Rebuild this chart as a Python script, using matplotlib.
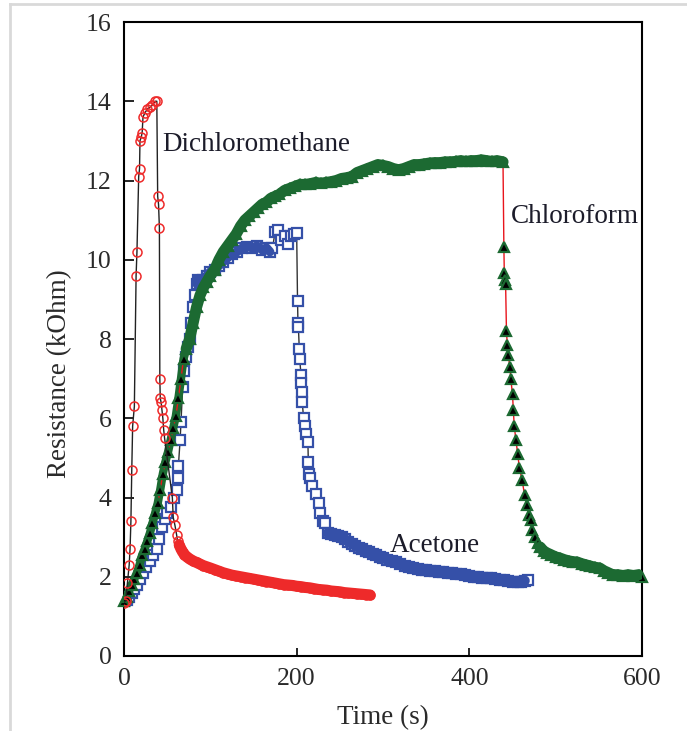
import matplotlib
matplotlib.use('Agg')
import matplotlib.pyplot as plt
from matplotlib.lines import Line2D

plt.rcParams['font.family'] = ['Liberation Serif', 'DejaVu Serif']

# Dichloromethane (red open circles)
t_dcm = [0, 2, 4, 6, 7, 8, 9, 10, 12, 14, 15, 17, 18, 18.5, 20, 21, 22, 24, 27, 30, 33, 36,
         38, 39, 40, 41, 41.5, 42, 43, 44, 45, 46, 47, 56, 57, 59, 61, 62,
         64, 66, 68, 70, 73, 76, 80, 84, 88, 92, 96, 100, 105, 110, 115, 120, 125, 130,
         135, 140, 145, 150, 155, 160, 165, 170, 175, 180, 185, 190, 195, 200, 205, 210,
         215, 220, 225, 230, 235, 240, 245, 250, 255, 260, 265, 270, 275, 280, 285]
r_dcm = [1.35, 1.4, 1.85, 2.3, 2.7, 3.4, 4.7, 5.8, 6.3, 9.6, 10.2, 12.1, 12.3, 13.0, 13.1, 13.2, 13.6, 13.7, 13.8, 13.85, 13.9, 14.0,
         14.0, 11.6, 11.4, 10.8, 7.0, 6.5, 6.4, 6.2, 6.0, 5.7, 5.5, 4.0, 3.5, 3.3, 3.05, 2.9,
         2.8, 2.7, 2.62, 2.56, 2.5, 2.45, 2.4, 2.36, 2.32, 2.28, 2.25, 2.22, 2.18, 2.14, 2.1, 2.07, 2.04, 2.02,
         2.0, 1.98, 1.96, 1.94, 1.92, 1.9, 1.88, 1.86, 1.84, 1.82, 1.8, 1.79, 1.78, 1.76, 1.75, 1.73,
         1.72, 1.7, 1.68, 1.67, 1.66, 1.64, 1.63, 1.62, 1.6, 1.59, 1.58, 1.57, 1.56, 1.55, 1.54]

# Acetone (blue open squares)
t_ace = [0, 3, 6, 9, 12, 15, 18, 22, 26, 30, 34, 38, 41, 44, 47, 50, 55, 58, 61, 62, 63, 65, 66, 68,
         70, 72, 74, 76, 78, 80, 82, 84, 86, 88, 92, 96, 100, 105, 110, 115, 120, 125, 131, 137,
         143, 148, 154, 160, 165, 169, 172, 175, 178, 182, 186, 190, 194, 197, 200,
         201, 201.5, 202, 203, 203.5, 205, 205.5, 206, 206.5, 208, 210, 211, 213, 213.5, 214, 216,
         218, 222, 226, 227, 230, 233, 236, 240, 244, 248, 252, 256, 260, 264, 268, 272, 276, 280,
         284, 288, 292, 296, 300, 305, 310, 315, 320, 325, 330, 335, 340, 345, 350, 355, 360, 365,
         370, 375, 380, 385, 390, 395, 400, 405, 410, 415, 420, 425, 430, 435, 440, 445, 451, 456,
         460, 464, 468]
r_ace = [1.4, 1.42, 1.5, 1.6, 1.7, 1.8, 1.95, 2.1, 2.25, 2.4, 2.55, 2.7, 2.95, 3.25, 3.45, 3.6, 3.77, 4.0, 4.2, 4.5, 4.8, 5.45, 5.9, 6.8,
         7.2, 7.55, 7.8, 8.0, 8.4, 8.8, 9.1, 9.4, 9.5, 9.45, 9.5, 9.6, 9.7, 9.75, 9.85, 9.95, 10.05, 10.15, 10.2, 10.3,
         10.33, 10.3, 10.35, 10.25, 10.3, 10.2, 10.3, 10.7, 10.75, 10.5, 10.6, 10.4, 10.6, 10.65, 10.68,
         8.95, 8.4, 8.3, 7.75, 7.5, 7.1, 6.9, 6.65, 6.4, 6.0, 5.8, 5.6, 5.4, 4.9, 4.6, 4.5,
         4.3, 4.1, 3.85, 3.6, 3.4, 3.35, 3.1, 3.08, 3.05, 3.03, 3.0, 2.95, 2.88, 2.83, 2.78, 2.73, 2.7, 2.65,
         2.62, 2.58, 2.55, 2.5, 2.47, 2.43, 2.4, 2.36, 2.32, 2.28, 2.25, 2.22, 2.2, 2.18, 2.17, 2.15, 2.14, 2.12,
         2.11, 2.1, 2.09, 2.07, 2.06, 2.04, 2.02, 2.0, 1.99, 1.98, 1.97, 1.96, 1.95, 1.93, 1.92, 1.9, 1.88, 1.87,
         1.88, 1.9, 1.92]

# Chloroform (black triangles, green edge)
t_chl = [0, 3, 6, 9, 12, 15, 18, 21, 24, 27, 30, 33, 36, 39, 42, 45, 48, 51, 54, 57, 60, 63, 66, 69,
         72, 76, 80, 84, 88, 92, 96, 100, 105, 110, 115, 120, 125, 130, 135, 140, 145, 150, 155,
         160, 165, 170, 175, 180, 186, 192, 198, 204, 210, 216, 222, 228, 234, 240, 246, 252, 258,
         264, 270, 276, 282, 288, 294, 300, 306, 312, 318, 324, 330, 336, 342, 348, 354, 360, 366,
         372, 378, 384, 390, 396, 402, 408, 414, 420, 426, 432, 439,
         440, 440.5, 441, 442, 443, 444, 445, 447, 448, 450, 451, 452, 454, 456, 458, 461, 464, 467,
         469, 471, 473, 476, 479, 482, 486, 490, 495, 500, 505, 510, 515, 520, 525, 530, 535, 540,
         545, 551, 556, 561, 566, 572, 578, 584, 590, 596, 600]
r_chl = [1.4, 1.5, 1.65, 1.8, 1.95, 2.1, 2.3, 2.55, 2.7, 2.9, 3.1, 3.35, 3.6, 3.85, 4.2, 4.6, 4.9, 5.15, 5.45, 5.75, 6.05, 6.5, 7.0, 7.5,
         7.75, 8.0, 8.4, 8.8, 9.1, 9.3, 9.45, 9.6, 9.75, 10.0, 10.2, 10.35, 10.5, 10.65, 10.85, 11.0, 11.1, 11.2, 11.3,
         11.4, 11.45, 11.55, 11.6, 11.65, 11.75, 11.8, 11.85, 11.9, 11.9, 11.92, 11.95, 11.93, 11.95, 11.97, 12.0, 12.05, 12.07,
         12.1, 12.2, 12.25, 12.3, 12.35, 12.4, 12.38, 12.35, 12.3, 12.27, 12.3, 12.35, 12.4, 12.4, 12.42, 12.44, 12.45, 12.45,
         12.47, 12.47, 12.48, 12.5, 12.48, 12.5, 12.5, 12.52, 12.5, 12.48, 12.5, 12.47,
         10.33, 9.67, 9.5, 9.4, 8.2, 7.85, 7.6, 7.3, 7.0, 6.6, 6.2, 5.8, 5.45, 5.1, 4.75, 4.45, 4.07, 3.8,
         3.55, 3.43, 3.18, 3.0, 2.85, 2.75, 2.65, 2.6, 2.55, 2.5, 2.47, 2.43, 2.4, 2.38, 2.37, 2.33, 2.3, 2.27,
         2.24, 2.22, 2.15, 2.1, 2.05, 2.05, 2.03, 2.05, 2.03, 2.05, 2.0]

x_ticks = [0, 200, 400, 600]
y_ticks = [0, 2, 4, 6, 8, 10, 12, 14, 16]

red = '#ee2a2a'
blue = '#3550a8'
green = '#1c6a32'

fig = plt.figure(figsize=(6.87, 7.31), dpi=100)
ax = fig.add_axes([0.1805, 0.1026, 0.754, 0.8673])

# acetone: markers, then the dense stretches read as a solid band
ax.plot(t_ace, r_ace, color='#333333', lw=1.0, marker='s', ms=7, mfc='white',
        mec=blue, mew=1.6, zorder=3)
ax.plot(t_ace[31:50], r_ace[31:50], color=blue, lw=6.5, zorder=3.1, solid_capstyle='round')
ax.plot(t_ace[81:-1], r_ace[81:-1], color=blue, lw=7.5, zorder=3.1, solid_capstyle='round')

# chloroform
ax.plot(t_chl[:25], r_chl[:25], color=green, lw=6, zorder=3.9, solid_capstyle='round')
ax.plot(t_chl, r_chl, color='#e8141c', lw=1.0, marker='^', ms=7.5, mfc='black',
        mec=green, mew=1.6, zorder=4, clip_on=False)
ax.plot(t_chl[24:91], r_chl[24:91], color=green, lw=8, zorder=4.1, solid_capstyle='round')
ax.plot(t_chl[114:-1], r_chl[114:-1], color=green, lw=8, zorder=4.1, solid_capstyle='round')

# dichloromethane
ax.plot(t_dcm, r_dcm, color='#222222', lw=1.0, marker='o', ms=6.5, mfc='none',
        mec=red, mew=1.1, zorder=5)
ax.plot(t_dcm[38:], r_dcm[38:], color=red, lw=8, zorder=5.1, solid_capstyle='round')

txt = '#1c1c2a'
ax.text(44, 12.9, 'Dichloromethane', fontsize=19.5, va='center', ha='left', color=txt)
ax.text(448, 11.1, 'Chloroform', fontsize=19.5, va='center', ha='left', color=txt)
ax.text(308, 2.78, 'Acetone', fontsize=19.5, va='center', ha='left', color=txt)

ax.set_xlim(0, 600)
ax.set_ylim(0, 16)
ax.set_xticks(x_ticks)
ax.set_yticks(y_ticks)
ax.tick_params(axis='both', direction='in', labelsize=18.5, labelcolor='#2a2a2a', width=1.2)
ax.tick_params(axis='y', length=7, pad=9)
ax.tick_params(axis='x', length=6, pad=9)
for s in ax.spines.values():
    s.set_linewidth(1.5)

ax.set_xlabel('Time (s)', fontsize=19.5, color='#2a2a2a')
ax.set_ylabel('Resistance (kOhm)', fontsize=19.5, color='#2a2a2a')
ax.xaxis.set_label_coords(0.5, -0.077)
ax.yaxis.set_label_coords(-0.1, 0.446)

# light page border on the left and top
fig.add_artist(Line2D([10 / 687, 10 / 687], [0, 1 - 4 / 731], transform=fig.transFigure, color='#d9d9d9', lw=2))
fig.add_artist(Line2D([10 / 687, 1], [1 - 4 / 731, 1 - 4 / 731], transform=fig.transFigure, color='#d9d9d9', lw=2))

fig.savefig('out.png', dpi=100)
